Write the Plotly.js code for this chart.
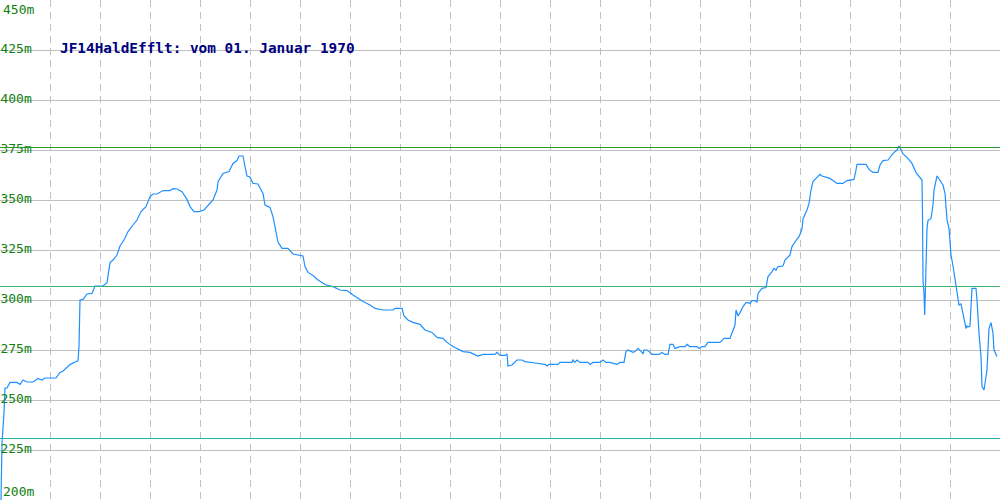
<!DOCTYPE html>
<html>
<head>
<meta charset="utf-8">
<script src="https://cdn.plot.ly/plotly-3.0.1.min.js"></script>
<style>html,body{margin:0;padding:0;background:#fff;}#chart{width:1000px;height:500px;}</style>
</head>
<body>
<div id="chart"></div>
<script>
var chartTitle = "JF14HaldEfflt: vom 01. Januar 1970";
var positions = [1,2,4,5,7,10,17,20,23,27,33,38,42,45,56,60,63,70,77,78,79,80,83,87,92,95,103,107,110,113,117,120,124,128,133,137,141,146,150,153,157,163,170,173,177,182,187,190,194,199,204,208,213,217,218,223,229,233,237,239,243,245,247,250,253,258,263,265,270,273,276,278,282,288,293,303,305,308,313,318,326,333,340,347,353,363,370,375,383,393,395,402,404,408,413,420,425,432,437,443,447,453,463,470,478,483,495,497,500,505,507,508,512,517,522,525,535,545,547,549,558,560,572,573,575,577,580,588,590,593,600,603,606,610,617,620,624,626,628,633,635,638,642,643,644,647,650,652,659,662,665,668,670,673,675,680,685,687,690,697,699,702,705,708,720,724,730,733,735,736,738,740,743,746,748,750,752,755,757,758,762,766,768,772,774,776,778,783,785,790,792,797,799,802,803,807,809,811,813,817,820,822,827,830,837,843,847,852,854,856,857,866,869,873,878,880,883,888,893,897,899,901,903,907,912,916,919,922,922.5,923,924,924.7,925.3,926,927,928,931,933,934,937,939,943,945,947,949,951,953,955,957,959,961,963,966,967,968,970,972,976,977,979,981,982,984,987,988,989,991,993,994,997];
var levels = [200,228.5,243.5,256,256,258.8,258.8,257.8,260,259,259,260.8,260,261,261,263.8,264.5,267.7,269.5,269.5,276.7,300,300.3,303,303.3,307,307,308.7,318.7,320,322.5,327,330,334.2,337.5,340,344.2,346.7,351.7,353,353,354.7,354.7,355.7,355.5,354.2,350.3,346.7,344.2,344.2,345,347.2,350,355,359.2,363.3,364.2,368.3,369.7,372,372,366.7,362,361.5,358.3,358,353.3,347.5,346.3,341.7,335,329,325.8,325.8,323,322,316.7,313.8,312.2,310,307.5,306.7,305,304.7,302.5,299.2,297.5,295.8,295,295,295.8,295.8,292,290,288.8,287.8,285,283.8,281.3,280.8,278.8,276.7,274.2,273.8,272,272.8,272.8,273.8,272.3,272.3,273,267,267.5,270,270,269.2,268.5,267.8,267,267.8,267.8,268.8,268.8,270,268.8,270,268.8,268.8,267.8,268.8,268.8,270,268.8,268.8,267.8,268.8,268.8,274.2,275,273.8,274.2,275.8,273.8,273,275,275,273.8,272.8,272.8,273.8,272.8,272.8,277.8,277.8,275.8,276.7,276.7,277.8,276.7,276.7,275.8,276.7,276.7,278.8,278.8,280.8,280.8,284.7,287.5,295,292,293.7,296.7,298.7,298.7,298.2,299.7,299.7,298.8,303.3,305.8,306.2,311.7,314.2,315.8,315,316.7,317,320,322.5,326.7,330.5,331.7,335.5,340.5,345,348.3,355,359.2,361.3,362.8,362,361.3,360.8,358.3,358.3,359.7,360.3,360.3,365,367.8,367.8,365.3,363.8,363.8,367.5,369.7,370,373.3,375,377,375.3,373,371.3,368.3,363.7,362,360,343,310,303.3,292.5,303,325,335.8,339.7,340.8,347.5,355,362,360.5,357.5,353.3,340.3,335.8,322.5,317,310,303.3,297.5,298,292.5,285.8,287,286.5,287,305.8,305.8,300,283.3,271.7,256.7,255,265,275,285.8,288.7,283.3,275,271.7];
var thresholds = [376.25, 306.75, 230.75];
var thresholdColors = ["#2a9a2a", "#3cb371", "#20b2aa"];
var tickValues = [225, 250, 275, 300, 325, 350, 375, 400, 425];
var edgeTicks = [450, 200];

var shapes = thresholds.map(function(v, i){
  return {type:'line', xref:'paper', x0:0, x1:1, yref:'y', y0:v, y1:v,
          line:{color:thresholdColors[i], width:1}, layer:'above'};
});

var labelFont = {family:'DejaVu Sans Mono, Liberation Mono, monospace', size:13, color:'#108010'};
var annotations = [
  {xref:'paper', x:0.001, xanchor:'left', yref:'y', y:edgeTicks[0], yanchor:'top', yshift:0,
   text:edgeTicks[0]+'m', showarrow:false, font:labelFont},
  {xref:'paper', x:0.001, xanchor:'left', yref:'y', y:edgeTicks[1], yanchor:'bottom', yshift:-1,
   text:edgeTicks[1]+'m', showarrow:false, font:labelFont}
];

var trace = {x:positions, y:levels, type:'scatter', mode:'lines',
  line:{color:'#1e90ff', width:1.2}, hoverinfo:'skip'};

var layout = {
  width:1000, height:500,
  margin:{l:0, r:0, t:0, b:0, pad:0},
  paper_bgcolor:'#ffffff', plot_bgcolor:'#ffffff',
  showlegend:false,
  title:{text:chartTitle, x:0.06, xanchor:'left', xref:'paper', y:0.904, yref:'paper', yanchor:'middle',
         font:{family:'DejaVu Sans Mono, Liberation Mono, monospace', size:14.4, color:'#000080', weight:'bold'}},
  xaxis:{range:[0,1000], dtick:50, tick0:0, showticklabels:false, ticks:'',
         showgrid:true, gridcolor:'#c0c0c0', gridwidth:1, griddash:'7px,5px',
         zeroline:false, showline:true, linecolor:'#c0c0c0', linewidth:2, mirror:false, fixedrange:true},
  yaxis:{range:[200,450], tickmode:'array', tickvals:tickValues, ticktext:tickValues.map(function(v){return v+'m';}),
         ticklabelposition:'inside', ticks:'', ticklabelstandoff:0, ticklabelshift:-2,
         tickfont:labelFont,
         showgrid:true, gridcolor:'#c0c0c0', gridwidth:1,
         zeroline:false, showline:true, linecolor:'#c0c0c0', linewidth:2, mirror:true, fixedrange:true},
  shapes:shapes,
  annotations:annotations
};

Plotly.newPlot('chart', [trace], layout, {displayModeBar:false, staticPlot:true});
</script>
</body>
</html>
